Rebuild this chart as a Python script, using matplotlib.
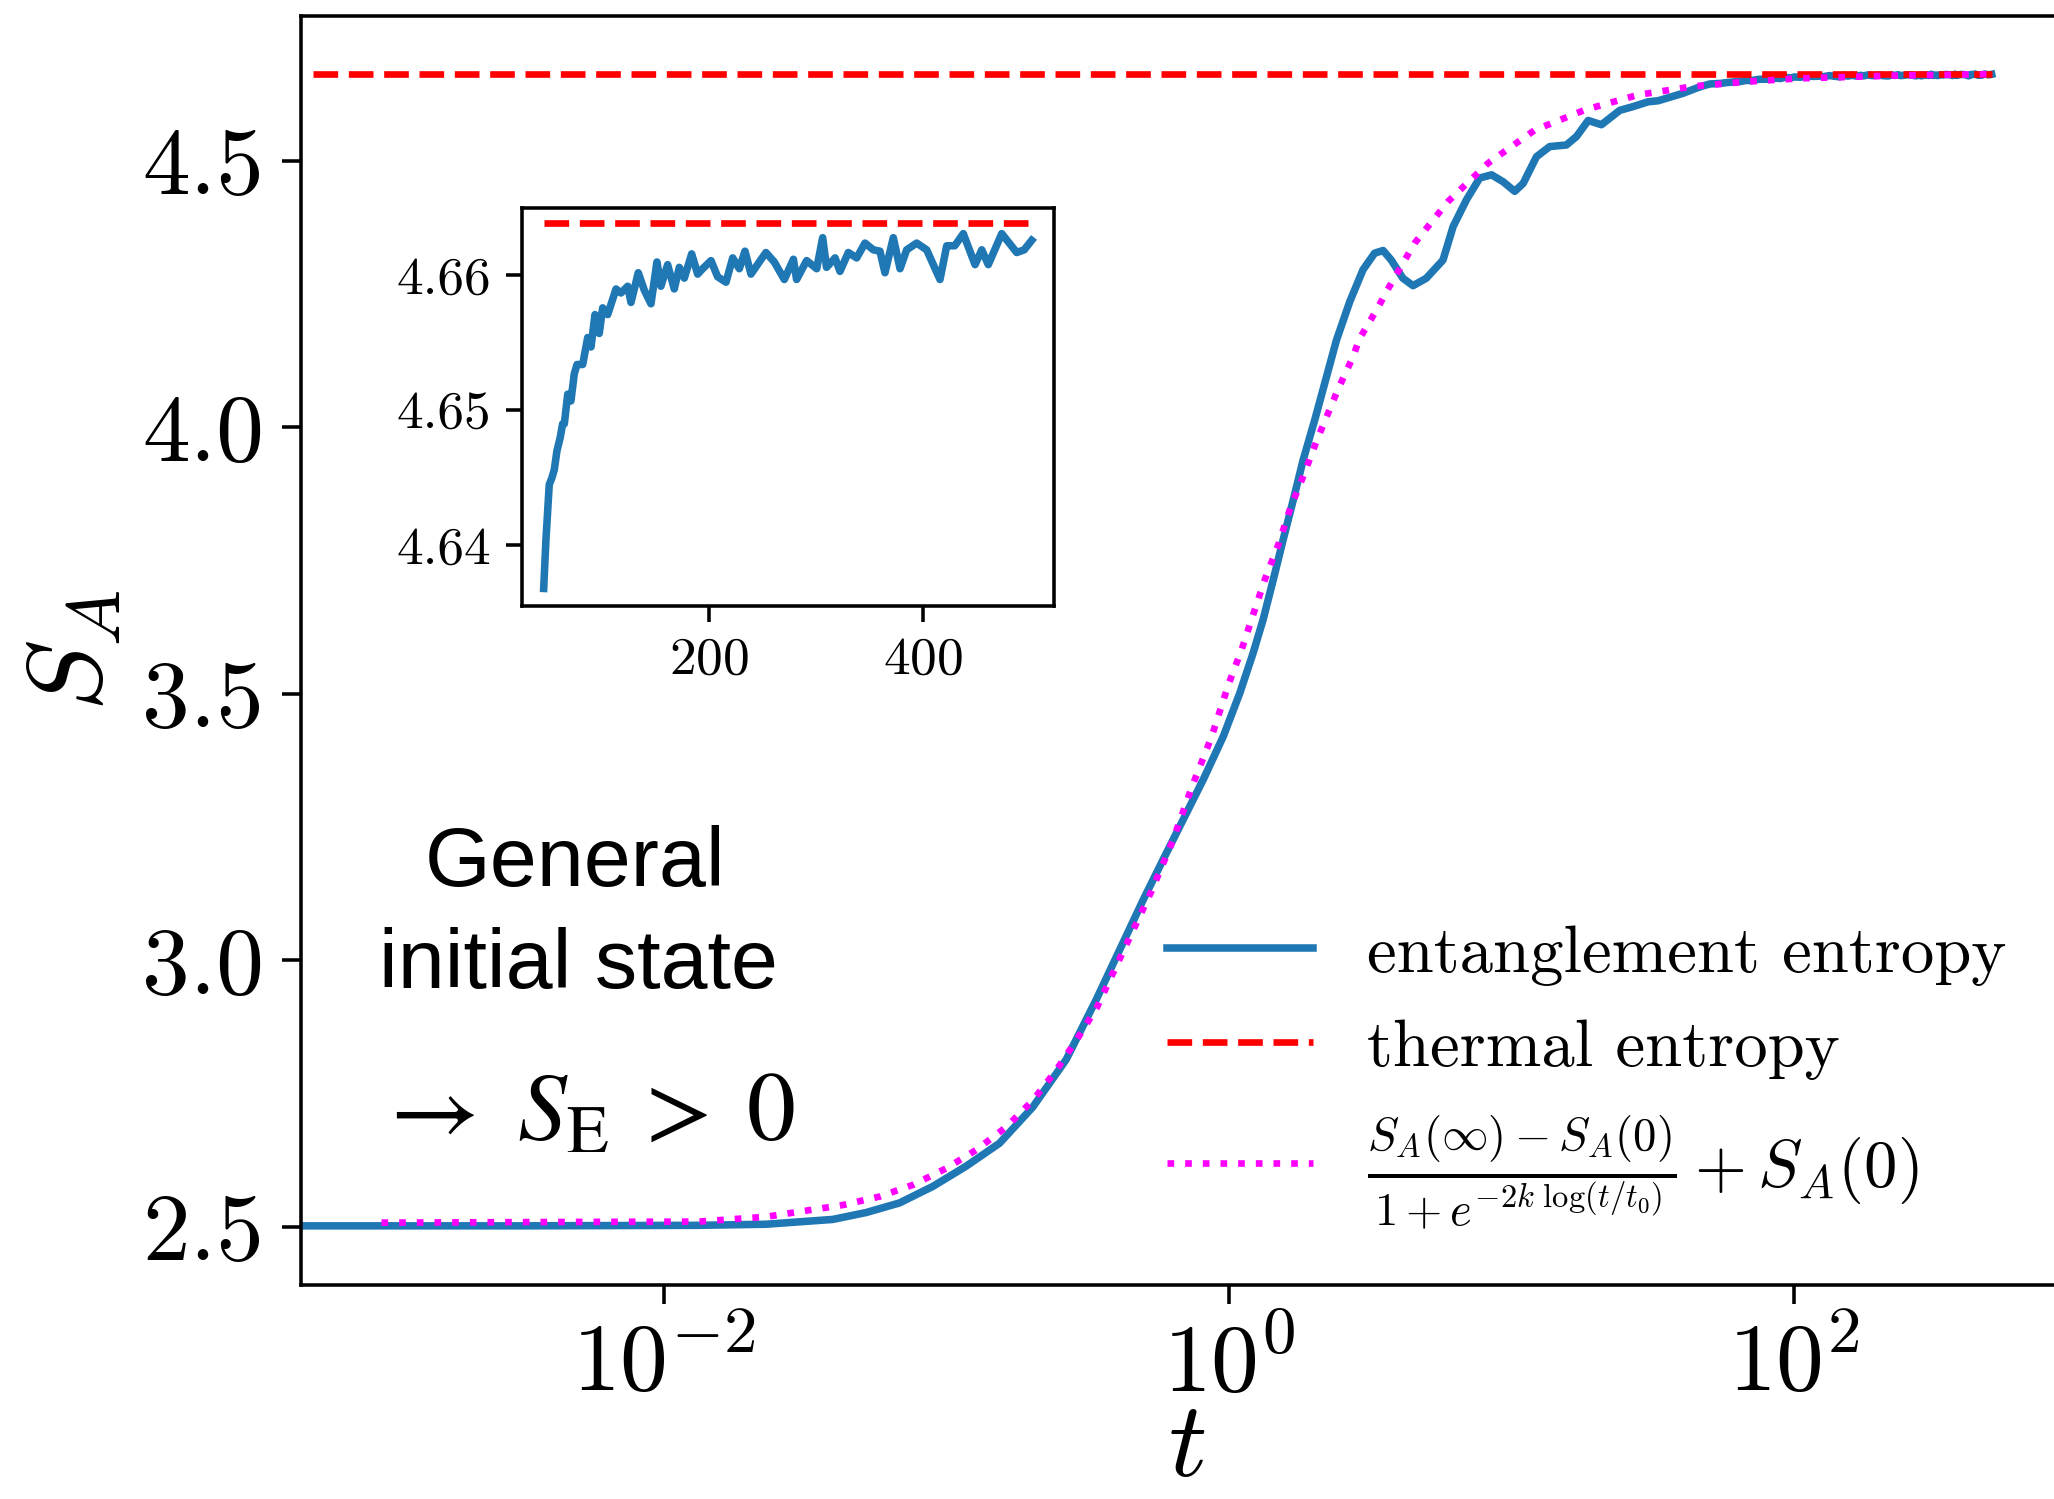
import matplotlib.pyplot as plt
import numpy as np
from matplotlib.ticker import FixedLocator, FormatStrFormatter, NullLocator

plt.rcParams['font.family'] = 'serif'
plt.rcParams['font.serif'] = ['cmr10']
plt.rcParams['mathtext.fontset'] = 'cm'
plt.rcParams['axes.formatter.use_mathtext'] = True

# main curve, early part (log10 t, S_A)
logt_early = [-4.0, -2.5, -1.875, -1.639, -1.403, -1.284, -1.166, -1.048, -0.930, -0.812,
              -0.694, -0.576, -0.470, -0.303, -0.233, -0.162, -0.091, -0.020, 0.039, 0.086,
              0.121, 0.157, 0.192, 0.228, 0.263, 0.304, 0.381, 0.428, 0.475, 0.516,
              0.546, 0.575, 0.616, 0.652, 0.699, 0.758, 0.794, 0.841, 0.888, 0.930,
              0.971, 1.012, 1.042, 1.089, 1.136, 1.195, 1.231, 1.272, 1.319, 1.384,
              1.431, 1.484, 1.520, 1.608]
S_early = [2.502, 2.502, 2.503, 2.505, 2.514, 2.527, 2.545, 2.576, 2.614, 2.657,
           2.725, 2.814, 2.926, 3.114, 3.189, 3.264, 3.339, 3.420, 3.502, 3.577,
           3.639, 3.714, 3.789, 3.864, 3.939, 4.014, 4.164, 4.236, 4.296, 4.327,
           4.332, 4.314, 4.280, 4.266, 4.280, 4.314, 4.377, 4.427, 4.468, 4.474,
           4.461, 4.443, 4.458, 4.508, 4.527, 4.530, 4.546, 4.576, 4.568, 4.595,
           4.602, 4.611, 4.613, 4.627]

# late times (linear t), shown in the inset
t_late = [45.3, 47.4, 50.5, 53.0, 55.2, 57.7, 60.8, 63.0, 64.6, 67.8, 70.8, 73.9, 76.5,
          81.8, 86.5, 89.6, 93.3, 97.3, 100.5, 105.2, 113.0, 117.6, 123.9, 127.0, 133.8,
          139.5, 145.7, 151.3, 155.0, 161.3, 167.5, 172.2, 176.9, 183.8, 189.4, 194.1,
          201.9, 208.1, 215.9, 222.2, 228.4, 233.7, 239.3, 247.1, 253.3, 261.1, 270.5,
          279.0, 282.0, 291.4, 300.8, 306.4, 310.0, 318.0, 322.6, 330.4, 338.2, 346.0,
          353.8, 360.0, 364.7, 372.5, 378.8, 385.0, 394.4, 403.7, 416.2, 422.5, 430.0,
          438.0, 449.0, 455.3, 461.4, 474.0, 488.0, 495.0, 502.0]
S_late = [4.6368, 4.6404, 4.6445, 4.6450, 4.6456, 4.6470, 4.6480, 4.6490, 4.6490, 4.6512,
          4.6507, 4.6527, 4.6534, 4.6534, 4.6554, 4.6547, 4.6571, 4.6557, 4.6576, 4.6571,
          4.6590, 4.6587, 4.6592, 4.6580, 4.6602, 4.6589, 4.6579, 4.6610, 4.6592, 4.6608,
          4.6590, 4.6606, 4.6598, 4.6616, 4.6601, 4.6605, 4.6611, 4.6599, 4.6595, 4.6613,
          4.6605, 4.6618, 4.6601, 4.6610, 4.6617, 4.6610, 4.6597, 4.6612, 4.6597, 4.6611,
          4.6605, 4.6628, 4.6606, 4.6613, 4.6603, 4.6617, 4.6613, 4.6624, 4.6619, 4.6618,
          4.6602, 4.6628, 4.6605, 4.6619, 4.6624, 4.6619, 4.6597, 4.6622, 4.6622, 4.6631,
          4.6608, 4.6619, 4.6608, 4.6631, 4.6617, 4.6619, 4.6626]

# fitted logistic curve (dotted)
logt_fit = [-3.0, -2.5, -1.875, -1.638, -1.367, -1.236, -1.118, -1.000, -0.893, -0.787,
            -0.693, -0.610, -0.539, -0.468, -0.274, -0.197, -0.132, -0.061, -0.002, 0.045,
            0.086, 0.127, 0.175, 0.216, 0.263, 0.310, 0.386, 0.439, 0.463, 0.528,
            0.558, 0.658, 0.776, 0.918, 1.083, 1.261, 1.449, 1.644, 1.839, 2.022,
            2.35, 2.70]
S_fit = [2.508, 2.509, 2.510, 2.519, 2.541, 2.557, 2.579, 2.610, 2.645, 2.688,
         2.738, 2.795, 2.851, 2.911, 3.130, 3.227, 3.324, 3.420, 3.517, 3.583,
         3.649, 3.714, 3.780, 3.846, 3.908, 3.974, 4.071, 4.132, 4.167, 4.225,
         4.255, 4.346, 4.424, 4.496, 4.558, 4.596, 4.624, 4.640, 4.649, 4.655,
         4.660, 4.663]

S_thermal = 4.6639
t_thermal_main = [5.7e-4, 502.0]
t_thermal_inset = [45.3, 502.0]

labels = ['entanglement entropy', 'thermal entropy',
          r'$\frac{S_A(\infty)-S_A(0)}{1+e^{-2k\ \log(t/t_0)}}+S_A(0)$']

t_main = np.concatenate([10.0 ** np.array(logt_early), t_late])
S_main = np.concatenate([S_early, S_late])
t_fit = 10.0 ** np.array(logt_fit)

W, H, DPI = 2054, 1499, 320
fig = plt.figure(figsize=(W / DPI, H / DPI), dpi=DPI)
ax = fig.add_axes([301 / W, 1 - 1285 / H, (2072 - 301) / W, (1285 - 16) / H])

ax.plot(t_main, S_main, color='#1f77b4', lw=1.7, label=labels[0])
ax.plot(t_thermal_main, [S_thermal, S_thermal], color='red', ls='--', lw=1.5, label=labels[1])
ax.plot(t_fit, S_fit, color='magenta', ls=':', lw=1.5, label=labels[2])

ax.set_xscale('log')
ax.set_xlim(10 ** -3.285, 10 ** 2.985)
ax.set_ylim(2.391, 4.772)
ax.xaxis.set_major_locator(FixedLocator([1e-2, 1e0, 1e2]))
ax.xaxis.set_minor_locator(NullLocator())
ax.set_yticks([2.5, 3.0, 3.5, 4.0, 4.5])
ax.yaxis.set_major_formatter(FormatStrFormatter('%.1f'))
ax.tick_params(labelsize=21.5, length=4.3, pad=4)
ax.set_xlabel(r'$t$', fontsize=24, labelpad=-2)
ax.set_ylabel(r'$S_A$', fontsize=24)

ax.legend(loc='center left', bbox_to_anchor=(1140 / W, 1 - 1078 / H),
          bbox_transform=fig.transFigure, frameon=False, fontsize=15,
          handlelength=2.2, borderaxespad=0)

# inset
axin = fig.add_axes([522 / W, 1 - 606 / H, (1054 - 522) / W, (606 - 208) / H])
axin.plot(t_late, S_late, color='#1f77b4', lw=1.7)
axin.plot(t_thermal_inset, [S_thermal, S_thermal], color='red', ls='--', lw=1.5)
axin.set_xlim(25.0, 522.9)
axin.set_ylim(4.6355, 4.6650)
axin.set_xticks([200, 400])
axin.set_yticks([4.64, 4.65, 4.66])
axin.yaxis.set_major_formatter(FormatStrFormatter('%.2f'))
axin.tick_params(labelsize=12)

# annotation
fig.text(575 / W, 1 - 886 / H, 'General', family='Liberation Sans', fontsize=19,
         ha='center', va='baseline')
fig.text(578 / W, 1 - 988 / H, 'initial state', family='Liberation Sans', fontsize=19,
         ha='center', va='baseline')
fig.text(585 / W, 1 - 1140 / H, r'$\rightarrow\ S_{\mathrm{E}}\;>\;0$', math_fontfamily='stix',
         fontsize=22, ha='center', va='baseline')

fig.savefig('out.png', dpi=DPI)
